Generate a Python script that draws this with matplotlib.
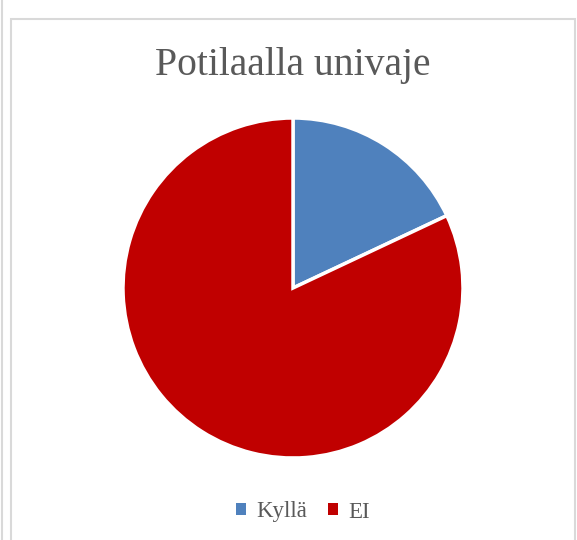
import matplotlib.pyplot as plt
from matplotlib.patches import Rectangle
from matplotlib.lines import Line2D

labels = ['Kyllä', 'EI']
values = [18, 82]
colors = ['#4F81BD', '#C00000']
title = 'Potilaalla univaje'

plt.rcParams['font.family'] = ['Liberation Serif', 'DejaVu Serif']

W, H = 577, 540
fig = plt.figure(figsize=(W / 100, H / 100), dpi=100)

# chart frame and the stray line at left edge
fig.add_artist(Rectangle((11 / W, -0.01), (575 - 11) / W, 1 - 19 / H + 0.01,
                         transform=fig.transFigure, fill=False,
                         edgecolor='#D9D9D9', linewidth=1.5))
fig.add_artist(Line2D([1.5 / W, 1.5 / W], [0, 1], transform=fig.transFigure,
                      color='#D9D9D9', linewidth=1.5))

cx, cy, r = 293, 288, 170
ax = fig.add_axes([(cx - r) / W, 1 - (cy + r) / H, 2 * r / W, 2 * r / H])
wedges, _ = ax.pie(values, colors=colors, startangle=90, counterclock=False,
                   wedgeprops=dict(edgecolor='white', linewidth=2.5), radius=1)
ax.set_xlim(-1, 1)
ax.set_ylim(-1, 1)
ax.set_aspect('equal')

fig.text(cx / W, 1 - 65 / H, title, ha='center', va='center',
         fontsize=28.5, color='#595959')

handles = [Rectangle((0, 0), 1, 1, facecolor=c) for c in colors]
fig.legend(handles, labels, loc='center', bbox_to_anchor=(303 / W, 1 - 512 / H),
           ncol=2, frameon=False, fontsize=16.5, handlelength=0.45, handleheight=0.45,
           handletextpad=0.45, columnspacing=0.9, labelcolor='#595959')

fig.savefig('out.png', dpi=100, facecolor='white')
